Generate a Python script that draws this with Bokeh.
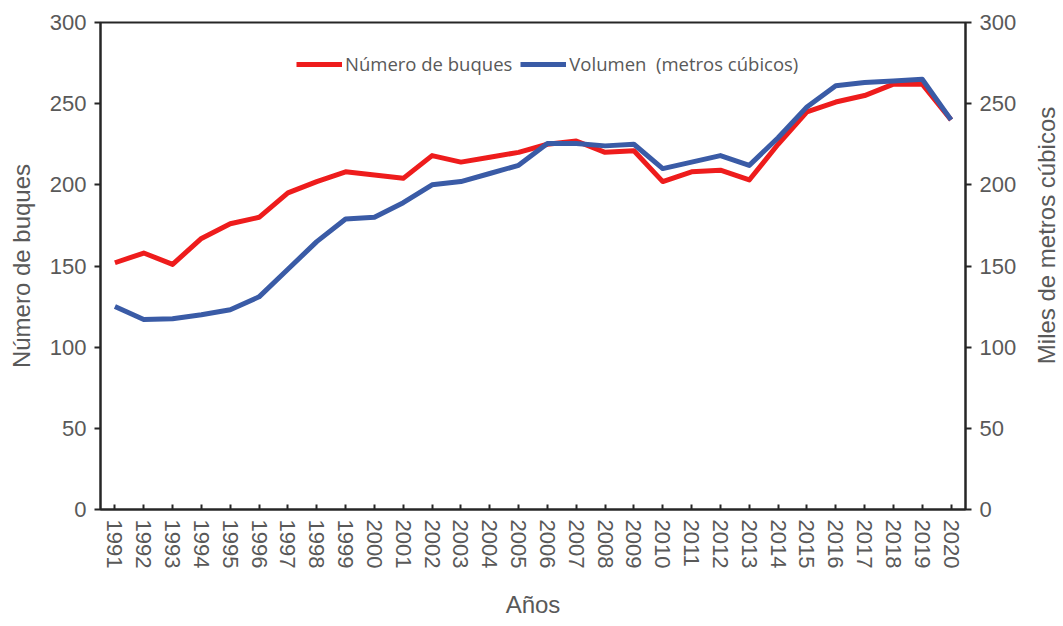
import math
from bokeh.plotting import figure
from bokeh.layouts import row
from bokeh.models import Range1d, LinearAxis, FixedTicker, Legend, LegendItem
from bokeh.core.properties import value
from bokeh.embed import file_html
from bokeh.resources import INLINE

years = list(range(1991, 2021))
buques = [152, 158, 151, 167, 176, 180, 195, 202, 208, 206, 204, 218, 214, 217, 220,
          225, 227, 220, 221, 202, 208, 209, 203, 225, 245, 251, 255, 262, 262, 240]
volumen = [125, 117, 117.5, 120, 123, 131, 148, 165, 179, 180, 189, 200, 202, 207, 212,
           225.5, 225.5, 224, 225, 210, 214, 218, 212, 229, 248, 261, 263, 264, 265, 240]
y_ticks = [0, 50, 100, 150, 200, 250, 300]
right_label = "Miles de metros cúbicos"

RED = "#ee1c1c"
BLUE = "#3a5ba6"
GREY = "#595959"
AXC = "#262626"
TICK_FONT = "Liberation Sans"
H = 622

p = figure(width=1030, height=H, output_backend="svg", toolbar_location=None,
           x_range=Range1d(1990.5, 2020.5), y_range=Range1d(0, 300),
           min_border_left=100, min_border_right=65, min_border_top=22, min_border_bottom=113)
p.extra_y_ranges = {"vol": Range1d(0, 300)}

p.grid.visible = False
p.outline_line_color = AXC
p.outline_line_width = 2
p.background_fill_color = "white"
p.border_fill_color = "white"

r1 = p.line(years, buques, line_color=RED, line_width=5, line_join="round")
r2 = p.line(years, volumen, line_color=BLUE, line_width=5, line_join="round", y_range_name="vol")

# x axis
xa = p.xaxis[0]
xa.ticker = FixedTicker(ticks=years)
xa.major_label_orientation = "vertical"
xa.major_tick_in = 5
xa.major_tick_out = 0
xa.minor_tick_line_color = None
xa.axis_label = "Años"

# left axis
ya = p.yaxis[0]
ya.ticker = FixedTicker(ticks=y_ticks)
ya.major_tick_in = 0
ya.major_tick_out = 6
ya.minor_tick_line_color = None
ya.axis_label = "Número de buques"

# right axis (title drawn in the side panel below so it reads bottom-to-top)
ra = LinearAxis(y_range_name="vol", ticker=FixedTicker(ticks=y_ticks))
ra.major_tick_in = 0
ra.major_tick_out = 6
ra.minor_tick_line_color = None
p.add_layout(ra, "right")

for ax in [xa, ya, ra]:
    ax.axis_line_color = AXC
    ax.axis_line_width = 2
    ax.major_tick_line_color = AXC
    ax.major_tick_line_width = 2
    ax.major_label_text_font = TICK_FONT
    ax.major_label_text_font_size = "22px"
    ax.major_label_text_color = GREY
    ax.axis_label_text_font = TICK_FONT
    ax.axis_label_text_font_size = "24px"
    ax.axis_label_text_color = GREY
    ax.axis_label_text_font_style = "normal"
    ax.major_label_standoff = 8

xa.major_label_standoff = 10
xa.axis_label_standoff = 20
ya.axis_label_standoff = 12

legend = Legend(items=[LegendItem(label="Número de buques", renderers=[r1]),
                       LegendItem(label="Volumen  (metros cúbicos)", renderers=[r2])],
                orientation="horizontal", location=(196, 433))
legend.background_fill_alpha = 0
legend.border_line_color = None
legend.label_text_font = "Open Sans"
legend.label_text_font_size = "18.5px"
legend.label_text_color = GREY
legend.glyph_width = 46
legend.glyph_height = 20
legend.label_standoff = 3
legend.spacing = 8
legend.padding = 4
p.add_layout(legend, "center")

# side panel holding the right axis title
p2 = figure(width=32, height=H, output_backend="svg", toolbar_location=None,
            x_range=Range1d(0, 1), y_range=Range1d(0, H),
            min_border_left=0, min_border_right=0, min_border_top=0, min_border_bottom=0)
p2.axis.visible = False
p2.grid.visible = False
p2.outline_line_color = None
p2.background_fill_color = "white"
p2.border_fill_color = "white"
p2.text(x=[0.5], y=[H - 272], text=[right_label], angle=math.pi / 2,
        text_align="center", text_baseline="middle",
        text_font=value(TICK_FONT), text_font_size="24px", text_color=GREY)

layout = row(p, p2, spacing=0)
open("out.html", "w").write(file_html(layout, INLINE))
